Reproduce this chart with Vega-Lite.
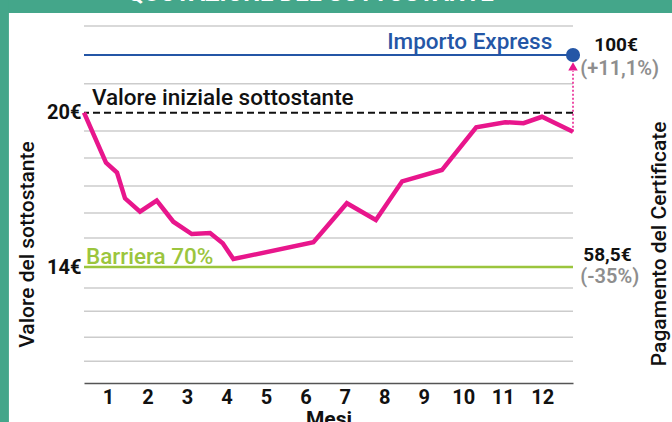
{
  "$schema": "https://vega.github.io/schema/vega-lite/v6.json",
  "autosize": "none",
  "width": 489,
  "height": 357,
  "padding": {"left": 84, "top": 26, "right": 99, "bottom": 39},
  "background": "white",
  "config": {"view": {"stroke": null}, "font": "Roboto"},
  "datasets": {
    "series": [
      {"mese": 0.392, "valore": 20.0},
      {"mese": 0.949, "valore": 18.06},
      {"mese": 1.228, "valore": 17.67},
      {"mese": 1.431, "valore": 16.67},
      {"mese": 1.811, "valore": 16.15},
      {"mese": 2.234, "valore": 16.58},
      {"mese": 2.655, "valore": 15.76},
      {"mese": 3.122, "valore": 15.28},
      {"mese": 3.586, "valore": 15.32},
      {"mese": 3.907, "valore": 14.92},
      {"mese": 4.176, "valore": 14.31},
      {"mese": 6.204, "valore": 14.96},
      {"mese": 7.051, "valore": 16.48},
      {"mese": 7.786, "valore": 15.83},
      {"mese": 8.452, "valore": 17.33},
      {"mese": 9.459, "valore": 17.77},
      {"mese": 10.328, "valore": 19.43},
      {"mese": 11.063, "valore": 19.63},
      {"mese": 11.527, "valore": 19.59},
      {"mese": 11.994, "valore": 19.84},
      {"mese": 12.78, "valore": 19.26}
    ],
    "grid": [
      {"v": 23.37}, {"v": 21.12}, {"v": 19.29}, {"v": 18.24}, {"v": 17.15},
      {"v": 16.10}, {"v": 15.13}, {"v": 13.18}, {"v": 12.28}, {"v": 11.27}, {"v": 10.34}
    ]
  },
  "layer": [
    {
      "data": {"values": [
        {"x": -3, "x2": 16, "y": 23.876, "y2": 25.5},
        {"x": -3, "x2": -1.51, "y": 7.0, "y2": 25.5}
      ]},
      "mark": {"type": "rect", "color": "#44A68A", "clip": false},
      "encoding": {
        "x": {"field": "x", "type": "quantitative"},
        "x2": {"field": "x2"},
        "y": {"field": "y", "type": "quantitative"},
        "y2": {"field": "y2"}
      }
    },
    {
      "data": {"values": [{"t": "QUOTAZIONE DEL SOTTOSTANTE", "x": 6.13, "y": 24.36}]},
      "mark": {"type": "text", "color": "white", "fontSize": 24, "fontWeight": "bold", "align": "center", "baseline": "alphabetic", "clip": false},
      "encoding": {
        "x": {"field": "x", "type": "quantitative"},
        "y": {"field": "y", "type": "quantitative"},
        "text": {"field": "t"}
      }
    },
    {
      "data": {"name": "grid"},
      "mark": {"type": "rule", "color": "#CCCCCC", "strokeWidth": 1.5, "clip": false},
      "encoding": {"y": {"field": "v", "type": "quantitative"}}
    },
    {
      "data": {"values": [{"v": 22.243}]},
      "mark": {"type": "rule", "color": "#2456A6", "strokeWidth": 2, "clip": false},
      "encoding": {"y": {"field": "v", "type": "quantitative"}}
    },
    {
      "data": {"values": [{"v": 20.0}]},
      "mark": {"type": "rule", "color": "#111111", "strokeWidth": 2, "strokeDash": [7, 4], "clip": false},
      "encoding": {"y": {"field": "v", "type": "quantitative"}}
    },
    {
      "data": {"values": [{"v": 14.0}]},
      "mark": {"type": "rule", "color": "#9BC53D", "strokeWidth": 2.5, "clip": false},
      "encoding": {"y": {"field": "v", "type": "quantitative"}}
    },
    {
      "data": {"values": [{"x": 12.78, "y": 19.26, "y2": 21.62}]},
      "mark": {"type": "rule", "color": "#E8168C", "strokeWidth": 1.5, "strokeDash": [2, 2], "clip": false},
      "encoding": {
        "x": {"field": "x", "type": "quantitative"},
        "y": {"field": "y", "type": "quantitative"},
        "y2": {"field": "y2"}
      }
    },
    {
      "data": {"values": [{"x": 12.78, "y": 21.8}]},
      "mark": {"type": "point", "shape": "triangle-up", "filled": true, "color": "#E8168C", "size": 90, "opacity": 1, "clip": false},
      "encoding": {
        "x": {"field": "x", "type": "quantitative"},
        "y": {"field": "y", "type": "quantitative"}
      }
    },
    {
      "data": {"name": "series"},
      "mark": {"type": "line", "color": "#E8168C", "strokeWidth": 4.5, "strokeJoin": "miter", "clip": false},
      "encoding": {
        "x": {
          "field": "mese", "type": "quantitative",
          "scale": {"domain": [0.392, 12.78], "nice": false, "zero": false},
          "axis": {
            "values": [1, 2, 3, 4, 5, 6, 7, 8, 9, 10, 11, 12],
            "grid": false, "ticks": false,
            "domainColor": "#555555", "domainWidth": 1.5,
            "labelFontSize": 20, "labelFontWeight": "bold", "labelColor": "#111111",
            "labelPadding": 4, "labelFlush": false,
            "title": "Mesi", "titleFontSize": 21, "titleFontWeight": "bold", "titleColor": "#111111", "titlePadding": 1
          }
        },
        "y": {
          "field": "valore", "type": "quantitative",
          "scale": {"domain": [9.49, 23.37], "nice": false, "zero": false},
          "axis": {
            "values": [14, 20],
            "labelExpr": "datum.value + '€'",
            "grid": false, "ticks": false, "domain": false,
            "labelFontSize": 20, "labelFontWeight": "bold", "labelColor": "#111111",
            "labelPadding": 3,
            "title": "Valore del sottostante", "titleFontSize": 21, "titleFontWeight": 500, "titleColor": "#111111",
            "titleX": -57, "titleY": 218, "titleBaseline": "middle"
          }
        }
      }
    },
    {
      "data": {"values": [{"x": 12.78, "y": 22.243}]},
      "mark": {"type": "point", "shape": "circle", "filled": true, "color": "#2456A6", "size": 200, "opacity": 1, "clip": false},
      "encoding": {
        "x": {"field": "x", "type": "quantitative"},
        "y": {"field": "y", "type": "quantitative"}
      }
    },
    {
      "data": {"values": [{"t": "Importo Express", "x": 12.255, "y": 22.48}]},
      "mark": {"type": "text", "color": "#2456A6", "fontSize": 22.5, "fontWeight": 500, "align": "right", "baseline": "alphabetic", "clip": false},
      "encoding": {
        "x": {"field": "x", "type": "quantitative"},
        "y": {"field": "y", "type": "quantitative"},
        "text": {"field": "t"}
      }
    },
    {
      "data": {"values": [{"t": "Valore iniziale sottostante", "x": 0.594, "y": 20.30}]},
      "mark": {"type": "text", "color": "#111111", "fontSize": 22.5, "fontWeight": 500, "align": "left", "baseline": "alphabetic", "clip": false},
      "encoding": {
        "x": {"field": "x", "type": "quantitative"},
        "y": {"field": "y", "type": "quantitative"},
        "text": {"field": "t"}
      }
    },
    {
      "data": {"values": [{"t": "Barriera 70%", "x": 0.442, "y": 14.117}]},
      "mark": {"type": "text", "color": "#9BC53D", "fontSize": 22.5, "fontWeight": 500, "align": "left", "baseline": "alphabetic", "clip": false},
      "encoding": {
        "x": {"field": "x", "type": "quantitative"},
        "y": {"field": "y", "type": "quantitative"},
        "text": {"field": "t"}
      }
    },
    {
      "data": {"values": [
        {"t": "100€", "x": 13.32, "y": 22.38},
        {"t": "58,5€", "x": 13.04, "y": 14.25}
      ]},
      "mark": {"type": "text", "color": "#111111", "fontSize": 19, "fontWeight": "bold", "align": "left", "baseline": "alphabetic", "clip": false},
      "encoding": {
        "x": {"field": "x", "type": "quantitative"},
        "y": {"field": "y", "type": "quantitative"},
        "text": {"field": "t"}
      }
    },
    {
      "data": {"values": [
        {"t": "(+11,1%)", "x": 12.965, "y": 21.46},
        {"t": "(-35%)", "x": 12.965, "y": 13.36}
      ]},
      "mark": {"type": "text", "color": "#8E8E8E", "fontSize": 20, "fontWeight": 600, "align": "left", "baseline": "alphabetic", "clip": false},
      "encoding": {
        "x": {"field": "x", "type": "quantitative"},
        "y": {"field": "y", "type": "quantitative"},
        "text": {"field": "t"}
      }
    },
    {
      "data": {"values": [{"t": "Pagamento del Certificate", "x": 14.99, "y": 14.9}]},
      "mark": {"type": "text", "color": "#111111", "fontSize": 21, "fontWeight": 500, "angle": 270, "align": "center", "baseline": "middle", "clip": false},
      "encoding": {
        "x": {"field": "x", "type": "quantitative"},
        "y": {"field": "y", "type": "quantitative"},
        "text": {"field": "t"}
      }
    }
  ]
}
